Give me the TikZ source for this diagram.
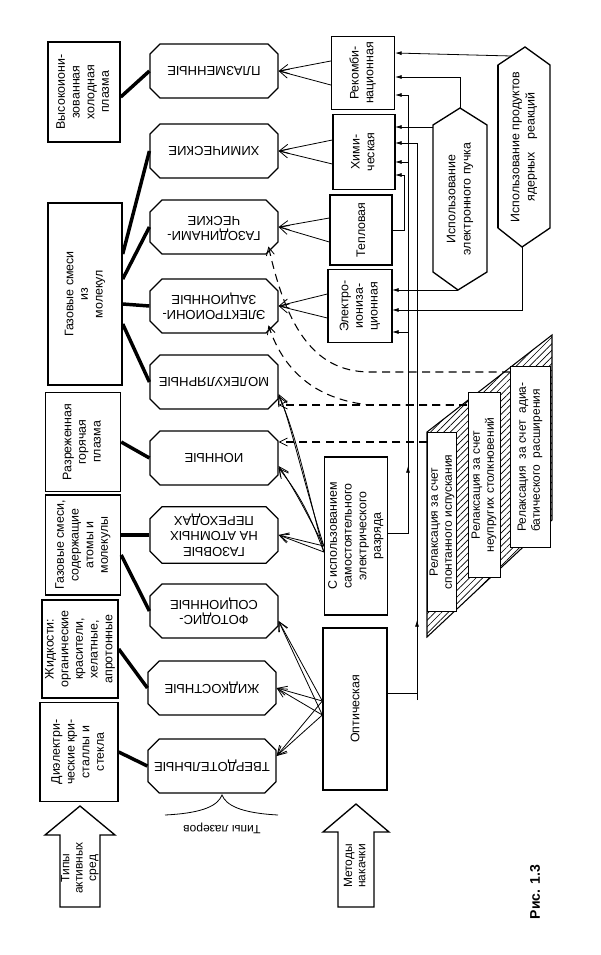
\documentclass[tikz,border=0pt]{standalone}
\usepackage{fontspec}
\setmainfont{Liberation Sans}
\usetikzlibrary{shapes.misc,arrows.meta,patterns.meta,calc}
\begin{document}
\begin{tikzpicture}[x=0.75pt,y=-0.75pt,
  sz/.style 2 args={minimum width=#1*0.75pt,minimum height=#2*0.75pt,inner sep=0pt},
  med/.style={draw,line width=1.1pt,font=\fontsize{9.3}{11}\selectfont,align=center},
  typ/.style={draw,line width=0.9pt,chamfered rectangle,chamfered rectangle xsep=5pt,chamfered rectangle ysep=4pt,font=\fontsize{9.8}{11.5}\selectfont,sz={128}{54}},
  pmp/.style={draw,line width=1pt,font=\fontsize{9.3}{11}\selectfont},
  thk/.style={line width=2.6pt},
  parr/.style={line width=0.6pt,-{Straight Barb[length=7pt,width=7pt,line width=0.6pt]}},
  farr/.style={line width=0.6pt,-{Latex[length=5pt,width=3pt]}},
  darr/.style={line width=0.8pt,dash pattern=on 6pt off 4pt,-{Straight Barb[length=6pt,width=6pt,line width=0.6pt]}},
  blk/.style={draw,line width=1pt,fill=white}]
\useasboundingbox (0,0) rectangle (600,955);
\fill[white] (0,0) rectangle (600,955);
% media
\node[med,sz={72}{100}] (m1) at (84,92) {\rotatebox{90}{\begin{tabular}{@{}c@{}}Высокоиони-\\зованная\\холодная\\плазма\end{tabular}}};
\node[med,sz={74}{182}] (m2) at (85,294) {\rotatebox{90}{\begin{tabular}{@{}c@{}}Газовые смеси\\из\\молекул\end{tabular}}};
\node[med,sz={75}{99}] (m3) at (83,442) {\rotatebox{90}{\begin{tabular}{@{}c@{}}Разреженная\\горячая\\плазма\end{tabular}}};
\node[med,sz={75}{100}] (m4) at (83,545) {\rotatebox{90}{\begin{tabular}{@{}c@{}}Газовые смеси,\\содержащие\\атомы и\\молекулы\end{tabular}}};
\node[med,sz={76}{98}] (m5) at (80,649) {\rotatebox{90}{\begin{tabular}{@{}c@{}}Жидкости:\\органические\\красители,\\хелатные,\\апротонные\end{tabular}}};
\node[med,sz={78}{99}] (m6) at (79,752) {\rotatebox{90}{\begin{tabular}{@{}c@{}}Диэлектри-\\ческие кри-\\сталлы и\\стекла\end{tabular}}};
% laser types
\node[typ] (t1) at (214,71) {\rotatebox{180}{ПЛАЗМЕННЫЕ}};
\node[typ] (t2) at (214,151) {\rotatebox{180}{ХИМИЧЕСКИЕ}};
\node[typ] (t3) at (214,227) {\rotatebox{180}{\begin{tabular}{@{}c@{}}ГАЗОДИНАМИ-\\ЧЕСКИЕ\end{tabular}}};
\node[typ] (t4) at (214,306) {\rotatebox{180}{\begin{tabular}{@{}c@{}}ЭЛЕКТРОИОНИ-\\ЗАЦИОННЫЕ\end{tabular}}};
\node[typ] (t5) at (214,382) {\rotatebox{180}{МОЛЕКУЛЯРНЫЕ}};
\node[typ] (t6) at (214,458) {\rotatebox{180}{ИОННЫЕ}};
\node[typ] (t7) at (214,535) {\rotatebox{180}{\begin{tabular}{@{}c@{}}ГАЗОВЫЕ\\НА АТОМНЫХ\\ПЕРЕХОДАХ\end{tabular}}};
\node[typ] (t8) at (214,611) {\rotatebox{180}{\begin{tabular}{@{}c@{}}ФОТОДИС-\\СОЦИОННЫЕ\end{tabular}}};
\node[typ] (t9) at (212,688) {\rotatebox{180}{ЖИДКОСТНЫЕ}};
\node[typ] (t10) at (212,766) {\rotatebox{180}{ТВЕРДОТЕЛЬНЫЕ}};
% media -> types
\draw[thk] ($(m1.east)+(0,5)$) -- (t1.west);
\draw[thk] ($(m2.east)+(0,-40)$) -- (t2.west);
\draw[thk] ($(m2.east)+(0,-15)$) -- (t3.west);
\draw[thk] ($(m2.east)+(0,10)$) -- (t4.west);
\draw[thk] ($(m2.east)+(0,30)$) -- (t5.west);
\draw[thk] (m3.east) -- (t6.west);
\draw[thk] ($(m4.east)+(0,-10)$) -- (t7.west);
\draw[thk] ($(m4.east)+(0,10)$) -- (t8.west);
\draw[thk] (m5.east) -- (t9.west);
\draw[thk] (m6.east) -- (t10.west);
% brace
\coordinate (bl) at (165,815); \coordinate (br) at (278,815); \coordinate (bt) at (222,795);
\draw[line width=0.6pt] (bl) .. controls (205,813) and (218,805) .. (bt) .. controls (226,805) and (240,813) .. (br);
\node[font=\fontsize{9}{10}\selectfont] (tl) at (222,828) {\rotatebox{180}{Типы лазеров}};
% block arrows
\draw[blk] (60,907) -- (60,835) -- (45,835) -- (80,806) -- (115,835) -- (100,835) -- (100,907) -- cycle;
\node[font=\fontsize{9}{10}\selectfont] (ar1) at (80,868) {\rotatebox{90}{\begin{tabular}{@{}c@{}}Типы\\активных\\сред\end{tabular}}};
\draw[blk] (338,907) -- (338,832) -- (323,832) -- (356,804) -- (389,832) -- (374,832) -- (374,907) -- cycle;
\node[font=\fontsize{9}{10}\selectfont] (ar2) at (356,866) {\rotatebox{90}{\begin{tabular}{@{}c@{}}Методы\\накачки\end{tabular}}};
% pump methods
\node[pmp,sz={63}{73}] (p1) at (363,73) {\rotatebox{90}{\begin{tabular}{@{}c@{}}Рекомби-\\национная\end{tabular}}};
\node[pmp,sz={62}{75}] (p2) at (364,152) {\rotatebox{90}{\begin{tabular}{@{}c@{}}Хими-\\ческая\end{tabular}}};
\node[pmp,sz={62}{70}] (p3) at (361,230) {\rotatebox{90}{Тепловая}};
\node[pmp,sz={64}{73}] (p4) at (360,306) {\rotatebox{90}{\begin{tabular}{@{}c@{}}Электро-\\иониза-\\ционная\end{tabular}}};
\node[pmp,sz={63}{158}] (p5) at (356,536) {\rotatebox{90}{\begin{tabular}{@{}c@{}}С использованием\\самостоятельного\\электрического\\разряда\end{tabular}}};
\node[pmp,sz={64}{162}] (p6) at (355,709) {\rotatebox{90}{Оптическая}};
% hexagons
\draw[line width=1pt] (460,108) -- (487,125) -- (487,272) -- (458,290) -- (433,272) -- (433,125) -- cycle;
\node[font=\fontsize{9.3}{11.5}\selectfont] (h1) at (460,199) {\rotatebox{90}{\begin{tabular}{@{}c@{}}Использование\\электронного пучка\end{tabular}}};
\draw[line width=1pt] (525,47) -- (550,65) -- (550,228) -- (522,247) -- (498,228) -- (498,65) -- cycle;
\draw[line width=2pt] (498,65) -- (498,228);
\node[font=\fontsize{9.3}{11.5}\selectfont] (h2) at (524,147) {\rotatebox{90}{\begin{tabular}{@{}c@{}}Использование продуктов\\ядерных\quad реакций\end{tabular}}};
\coordinate (h1t) at (460,108); \coordinate (h1l) at (433,127); \coordinate (h1b) at (458,290);
\coordinate (h2t) at (511,56); \coordinate (h2b) at (522,247);
% pump -> types
\foreach \p/\t in {p1/t1,p2/t2,p3/t3,p4/t4}{
  \draw[parr] ($(\p.west)+(0,-12)$) -- (\t.east);
  \draw[parr] ($(\p.west)+(0,12)$) -- (\t.east);}
\draw[parr] ($(p5.west)+(0,10)$) .. controls (300,470) and (290,420) .. ($(t5.east)+(0,12)$);
\draw[parr] ($(p5.west)+(0,16)$) .. controls (305,480) and (295,430) .. ($(t5.east)+(0,14)$);
\draw[parr] ($(p5.west)+(0,10)$) .. controls (305,510) and (295,490) .. ($(t6.east)+(0,8)$);
\draw[parr] ($(p5.west)+(0,16)$) .. controls (310,515) and (300,495) .. ($(t6.east)+(0,10)$);
\draw[parr] ($(p5.west)+(0,10)$) -- (t7.east);
\draw[parr] ($(p5.west)+(0,16)$) -- (t7.east);
\foreach \d in {-8,6}{
  \draw[parr] ($(p6.west)+(0,\d)$) -- ($(t8.east)+(0,10)$);
  \draw[parr] ($(p6.west)+(0,\d)$) -- (t9.east);
  \draw[parr] ($(p6.west)+(0,\d)$) -- ($(t10.east)+(0,-10)$);}
% feeds from electric pumping
\draw[line width=0.6pt] ($(p6.east)+(0,-16)$) -| (417,143) coordinate (f1);
\draw[farr] (f1) -- (395,143);
\draw[farr] (417,700) -- (417,620);
\draw[line width=0.6pt] ($(p5.east)+(0,-3)$) -| (408,95) coordinate (f2);
\draw[farr] (f2) -- (395,95);
\draw[farr] (408,533) -- (408,466);
\draw[farr] (408,332) -- (392,332);
\draw[farr] (408,162) -- (395,162);
\draw[line width=0.6pt] (p3.east) -| (404,175) coordinate (f3);
\draw[farr] (f3) -- (395,175);
% electron beam
\draw[line width=0.6pt] (h1t) |- (430,77) coordinate (f4);
\draw[farr] (f4) -- (395,77);
\draw[farr] (h1l) -- (395,127);
\draw[farr] (h1b) -- (392,290);
% nuclear
\draw[farr] (h2t) -- (395,53);
\draw[line width=0.6pt] (h2b) |- (450,310) coordinate (f5);
\draw[farr] (f5) -- (392,310);
% relaxation trapezoid
\draw[line width=0.8pt,pattern={Lines[angle=45,distance=3.5pt,line width=0.5pt]}] (427,432) -- (552,335) -- (552,520) -- (427,637) -- cycle;
\node[draw,fill=white,line width=0.6pt,sz={29}{179},font=\fontsize{9}{10.5}\selectfont] (r1) at (442,522) {\rotatebox{90}{\begin{tabular}{@{}c@{}}Релаксация за счет\\спонтанного испускания\end{tabular}}};
\node[draw,fill=white,line width=0.6pt,sz={32}{185},font=\fontsize{9}{10.5}\selectfont] (r2) at (484,485) {\rotatebox{90}{\begin{tabular}{@{}c@{}}Релаксация за счет\\неупругих столкновений\end{tabular}}};
\node[draw,fill=white,line width=0.6pt,sz={40}{181},font=\fontsize{9}{10.5}\selectfont] (r3) at (530,457) {\rotatebox{90}{\begin{tabular}{@{}l@{}}Релаксация\ \ за счет\ \ адиа-\\батического\ \ расширения\end{tabular}}};
\coordinate (d1) at (427,442); \coordinate (d2) at (467,405); \coordinate (d3) at (510,372);
\draw[darr] (d1) -- ($(t6.east)+(0,-16)$);
\draw[darr] (d2) -- ($(t5.east)+(0,23)$);
\draw[darr] (d2) -- (370,405) .. controls (320,400) and (285,375) .. ($(t4.south east)+(-4,-2)$);
\draw[darr] (d3) -- (370,372) .. controls (310,372) and (285,320) .. ($(t3.south east)+(-4,-2)$);
% caption
\node[font=\bfseries\fontsize{10.5}{12}\selectfont] (cap) at (535,892) {\rotatebox{90}{Рис. 1.3}};
\end{tikzpicture}
\end{document}
